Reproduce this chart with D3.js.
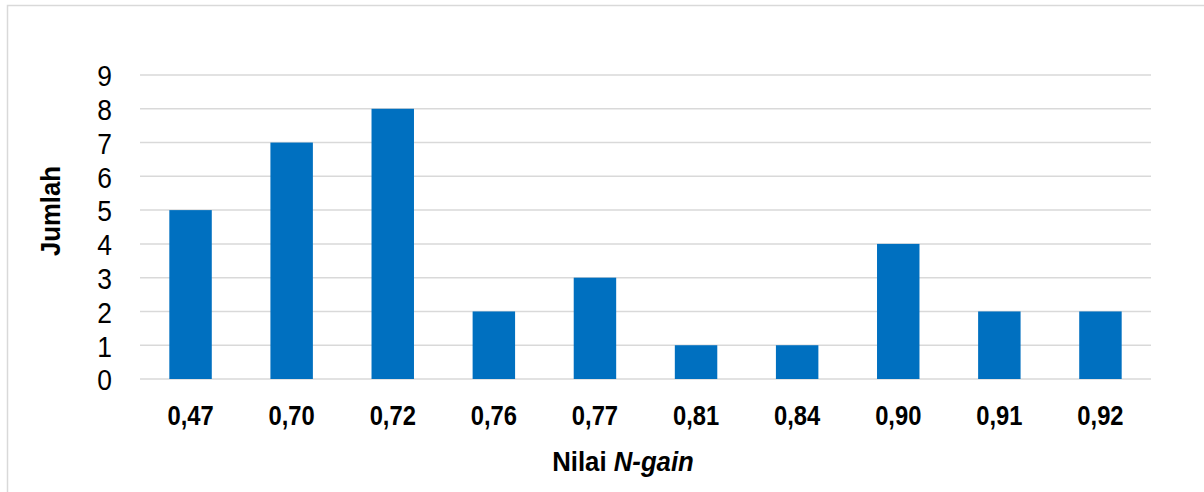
<!DOCTYPE html>
<html>
<head>
<meta charset="utf-8">
<script src="https://cdn.jsdelivr.net/npm/d3@7"></script>
<style>
  html, body { margin: 0; padding: 0; background: #fff; }
  svg { display: block; }
  .narrow { font-family: "Liberation Sans Narrow", "Arial Narrow", "Liberation Sans", Arial, sans-serif; }
</style>
</head>
<body>
<svg id="chart" width="1204" height="492"></svg>
<script>
// N-gain score categories and how many students fall in each
const categories = ["0,47", "0,70", "0,72", "0,76", "0,77", "0,81", "0,84", "0,90", "0,91", "0,92"];
const counts = [5, 7, 8, 2, 3, 1, 1, 4, 2, 2];
const yTicks = [0, 1, 2, 3, 4, 5, 6, 7, 8, 9];

const svg = d3.select("#chart");
const plot = { left: 140, right: 1151, top: 75, bottom: 379 };

// Chart-area frame
svg.append("rect")
  .attr("x", 7.5).attr("y", 5.5)
  .attr("width", 1260).attr("height", 520)
  .attr("fill", "#fff")
  .attr("stroke", "#d9d9d9").attr("stroke-width", 1.5);

const x = d3.scaleBand()
  .domain(categories)
  .range([plot.left, plot.right])
  .paddingInner(0.58)
  .paddingOuter(0.29);

const y = d3.scaleLinear()
  .domain([0, 9])
  .range([plot.bottom, plot.top]);

// Horizontal gridlines
svg.append("g")
  .selectAll("line")
  .data(yTicks)
  .join("line")
  .attr("x1", plot.left).attr("x2", plot.right)
  .attr("y1", d => y(d)).attr("y2", d => y(d))
  .attr("stroke", "#d9d9d9").attr("stroke-width", 1.5);

// Bars
svg.append("g")
  .selectAll("rect")
  .data(counts)
  .join("rect")
  .attr("x", (d, i) => x(categories[i]))
  .attr("width", x.bandwidth())
  .attr("y", d => y(d))
  .attr("height", d => y(0) - y(d))
  .attr("fill", "#0070c0");

// Y axis labels (slightly condensed)
const yAxis = d3.axisLeft(y).tickValues(yTicks).tickSize(0).tickPadding(0);
const gy = svg.append("g")
  .attr("transform", `translate(112,0)`)
  .attr("class", "narrow")
  .call(yAxis);
gy.select(".domain").remove();
gy.selectAll("text")
  .attr("font-family", null)
  .style("font-size", "30px")
  .attr("fill", "#000")
  .attr("dy", "0.36em")
  .attr("transform", "scale(0.88,1)");

// X axis labels (bold, condensed)
const xAxis = d3.axisBottom(x).tickSize(0).tickPadding(0);
const gx = svg.append("g")
  .attr("transform", `translate(0,${plot.bottom})`)
  .attr("class", "narrow")
  .call(xAxis);
gx.select(".domain").remove();
gx.selectAll("text")
  .attr("font-family", null)
  .style("font-size", "27px")
  .style("font-weight", "bold")
  .attr("fill", "#000")
  .attr("y", 46)
  .attr("dy", 0)
  .attr("transform", "scale(0.88,1)");

// Axis titles
svg.append("text")
  .attr("class", "narrow")
  .attr("transform", "translate(60,211) rotate(-90) scale(0.92,1)")
  .attr("text-anchor", "middle")
  .style("font-size", "28px")
  .style("font-weight", "bold")
  .text("Jumlah");

const xt = svg.append("text")
  .attr("class", "narrow")
  .attr("transform", "translate(623,471) scale(0.92,1)")
  .attr("text-anchor", "middle")
  .style("font-size", "28px")
  .style("font-weight", "bold");
xt.append("tspan").text("Nilai ");
xt.append("tspan").style("font-style", "italic").text("N-gain");
</script>
</body>
</html>
